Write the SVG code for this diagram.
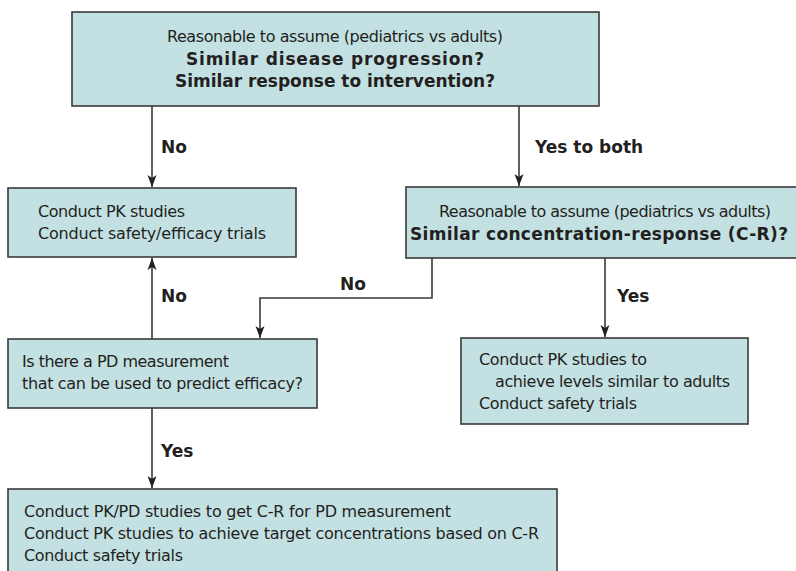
<svg xmlns="http://www.w3.org/2000/svg" width="796" height="571" viewBox="0 0 796 571">
<defs>
<marker id="ah" viewBox="0 0 12 10" refX="12" refY="5" markerWidth="12" markerHeight="10" markerUnits="userSpaceOnUse" orient="auto">
<path d="M0,0.5 L12,5 L0,9.5 L3,5 z" fill="#231f20"/>
</marker>
<style>
.box{fill:#c3e1e3;stroke:#3a3a3a;stroke-width:1.6}
.t{font-family:"DejaVu Sans","Liberation Sans",sans-serif;font-size:16px;fill:#231f20}
.b{font-family:"DejaVu Sans","Liberation Sans",sans-serif;font-size:17px;font-weight:bold;fill:#231f20}
.lb{font-family:"DejaVu Sans","Liberation Sans",sans-serif;font-size:17px;font-weight:bold;fill:#231f20}
.ln{fill:none;stroke:#3a3a3a;stroke-width:1.6}
</style>
</defs>
<rect width="796" height="571" fill="#ffffff"/>
<g id="connectors">
<line class="ln" x1="152" y1="106" x2="152" y2="187" marker-end="url(#ah)"/>
<line class="ln" x1="519" y1="106" x2="519" y2="186" marker-end="url(#ah)"/>
<line class="ln" x1="152" y1="339" x2="152" y2="258" marker-end="url(#ah)"/>
<polyline class="ln" points="432,258 432,298 260,298 260,338" marker-end="url(#ah)"/>
<line class="ln" x1="605" y1="258" x2="605" y2="337" marker-end="url(#ah)"/>
<line class="ln" x1="152" y1="408" x2="152" y2="488" marker-end="url(#ah)"/>
<text class="lb" x="161" y="153">No</text>
<text class="lb" x="535" y="153">Yes to both</text>
<text class="lb" x="161" y="302">No</text>
<text class="lb" x="340" y="290">No</text>
<text class="lb" x="617" y="302">Yes</text>
<text class="lb" x="161" y="457">Yes</text>
</g>
<g id="n1">
<rect class="box" x="72" y="12" width="527" height="94"/>
<text class="t" x="167" y="42" textLength="336" lengthAdjust="spacing">Reasonable to assume (pediatrics vs adults)</text>
<text class="b" x="186" y="65" textLength="298" lengthAdjust="spacing">Similar disease progression?</text>
<text class="b" x="175" y="87" textLength="320" lengthAdjust="spacing">Similar response to intervention?</text>
</g>
<g id="n2">
<rect class="box" x="8" y="188" width="288" height="69"/>
<text class="t" x="38" y="217" textLength="147" lengthAdjust="spacing">Conduct PK studies</text>
<text class="t" x="38" y="239" textLength="228" lengthAdjust="spacing">Conduct safety/efficacy trials</text>
</g>
<g id="n3">
<rect class="box" x="406" y="187" width="400" height="71"/>
<text class="t" x="439" y="217" textLength="332" lengthAdjust="spacing">Reasonable to assume (pediatrics vs adults)</text>
<text class="b" x="410" y="240" textLength="378" lengthAdjust="spacing">Similar concentration-response (C-R)?</text>
</g>
<g id="n4">
<rect class="box" x="8" y="339" width="309" height="69"/>
<text class="t" x="22" y="367" textLength="207" lengthAdjust="spacing">Is there a PD measurement</text>
<text class="t" x="22" y="389" textLength="281" lengthAdjust="spacing">that can be used to predict efficacy?</text>
</g>
<g id="n5">
<rect class="box" x="461" y="338" width="287" height="86"/>
<text class="t" x="479" y="365" textLength="168" lengthAdjust="spacing">Conduct PK studies to</text>
<text class="t" x="495" y="387" textLength="235" lengthAdjust="spacing">achieve levels similar to adults</text>
<text class="t" x="479" y="409" textLength="158" lengthAdjust="spacing">Conduct safety trials</text>
</g>
<g id="n6">
<rect class="box" x="8" y="489" width="549" height="95"/>
<text class="t" x="24" y="517" textLength="427" lengthAdjust="spacing">Conduct PK/PD studies to get C-R for PD measurement</text>
<text class="t" x="24" y="539" textLength="515" lengthAdjust="spacing">Conduct PK studies to achieve target concentrations based on C-R</text>
<text class="t" x="24" y="561" textLength="159" lengthAdjust="spacing">Conduct safety trials</text>
</g>
</svg>
